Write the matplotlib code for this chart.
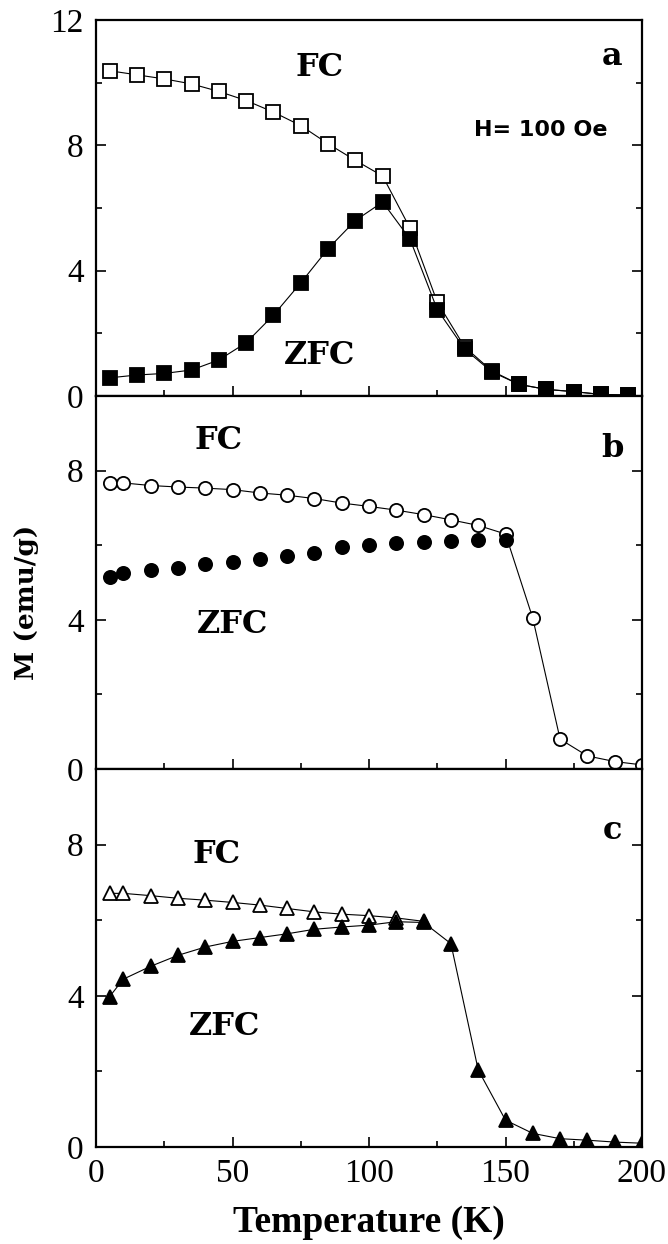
import matplotlib
matplotlib.use("Agg")
import matplotlib.pyplot as plt
from matplotlib.ticker import MultipleLocator

# ---------------- data ----------------
T_a = [5, 15, 25, 35, 45, 55, 65, 75, 85, 95, 105, 115, 125, 135, 145, 155, 165, 175, 185, 195]
fc_a = [10.38, 10.25, 10.12, 9.96, 9.72, 9.43, 9.06, 8.63, 8.05, 7.52, 7.02, 5.36, 3.0, 1.57,
        0.8, 0.37, 0.21, 0.14, 0.05, 0.03]
zfc_a = [0.58, 0.67, 0.72, 0.83, 1.15, 1.70, 2.58, 3.61, 4.70, 5.60, 6.19, 5.01, 2.76, 1.50,
         0.77, 0.37, 0.21, 0.14, 0.05, 0.03]

T_b_fc = [5, 10, 20, 30, 40, 50, 60, 70, 80, 90, 100, 110, 120, 130, 140, 150, 160, 170, 180, 190, 200]
fc_b = [7.67, 7.67, 7.6, 7.56, 7.53, 7.49, 7.4, 7.34, 7.25, 7.13, 7.04, 6.94, 6.82, 6.68, 6.53,
        6.3, 4.04, 0.8, 0.35, 0.2, 0.11]
T_b_zfc = [5, 10, 20, 30, 40, 50, 60, 70, 80, 90, 100, 110, 120, 130, 140, 150]
zfc_b = [5.16, 5.25, 5.34, 5.4, 5.49, 5.55, 5.64, 5.7, 5.79, 5.95, 6.0, 6.06, 6.08, 6.1, 6.13, 6.15]

T_c_fc = [5, 10, 20, 30, 40, 50, 60, 70, 80, 90, 100, 110, 120]
fc_c = [6.71, 6.71, 6.65, 6.58, 6.53, 6.47, 6.4, 6.31, 6.22, 6.16, 6.12, 6.06, 5.97]
T_c_zfc = [5, 10, 20, 30, 40, 50, 60, 70, 80, 90, 100, 110, 120, 130, 140, 150, 160, 170, 180, 190, 200]
zfc_c = [3.98, 4.44, 4.78, 5.07, 5.29, 5.44, 5.54, 5.64, 5.76, 5.82, 5.87, 5.96, 5.94, 5.38, 2.04,
         0.71, 0.36, 0.22, 0.18, 0.13, 0.10]

x_ticks = [0, 50, 100, 150, 200]
panel_letters = ["a", "b", "c"]

# ---------------- style ----------------
serif = ["Liberation Serif", "DejaVu Serif"]
bold_serif = ["DejaVu Serif"]
plt.rcParams["font.family"] = serif

fig = plt.figure(figsize=(6.68, 12.44), dpi=100)
left, width = 96 / 668, (642 - 96) / 668
H = 1244
bounds = [(20, 396), (396, 769), (769, 1147)]
axes = []
for top, bot in bounds:
    ax = fig.add_axes([left, 1 - bot / H, width, (bot - top) / H])
    axes.append(ax)

ylims = [12, 10, 10]
for i, ax in enumerate(axes):
    ax.set_xlim(0, 200)
    ax.set_ylim(0, ylims[i])
    ax.xaxis.set_major_locator(MultipleLocator(50))
    ax.xaxis.set_minor_locator(MultipleLocator(25))
    ax.yaxis.set_major_locator(MultipleLocator(4))
    ax.yaxis.set_minor_locator(MultipleLocator(2))
    ax.tick_params(which="both", direction="in", right=True, top=False, labelsize=24,
                   width=1.2)
    ax.tick_params(which="major", length=7)
    ax.tick_params(which="minor", length=4)
    ax.tick_params(axis="x", pad=8)
    ax.tick_params(axis="y", pad=9)
    for s in ax.spines.values():
        s.set_linewidth(1.6)
    if i < 2:
        ax.set_xticklabels([])
    else:
        ax.set_xticks(x_ticks)
        ax.set_xticklabels([str(v) for v in x_ticks])
    if i > 0:
        ax.set_yticks([0, 4, 8])

ms = 9.5
mew = 1.3
lw = 0.8
# panel a
a = axes[0]
a.plot(T_a, fc_a, "-", color="black", lw=lw, marker="s", ms=ms, mfc="white", mec="black", mew=mew)
a.plot(T_a, zfc_a, "-", color="black", lw=lw, marker="s", ms=ms, mfc="black", mec="black", mew=mew)
# panel b
b = axes[1]
b.plot(T_b_fc, fc_b, "-", color="black", lw=lw, marker="o", ms=ms, mfc="white", mec="black", mew=mew)
b.plot(T_b_zfc, zfc_b, marker="o", ms=ms, mfc="black", mec="black", mew=mew, ls="none")
# panel c
c = axes[2]
c.plot(T_c_fc, fc_c, "-", color="black", lw=lw, marker="^", ms=ms + 1, mfc="white", mec="black", mew=mew)
c.plot(T_c_zfc, zfc_c, "-", color="black", lw=lw, marker="^", ms=ms + 1, mfc="black", mec="black", mew=mew)

lab_kw = dict(family=bold_serif, fontweight="bold", fontsize=23, ha="center", va="center")
a.text(82, 10.5, "FC", **lab_kw)
a.text(82, 1.3, "ZFC", **lab_kw)
a.text(189, 10.85, "a", **lab_kw)
a.text(163, 8.5, "H= 100 Oe", family=["DejaVu Sans"], fontweight="bold", fontsize=16,
       ha="center", va="center")
b.text(45, 8.8, "FC", **lab_kw)
b.text(50, 3.87, "ZFC", **lab_kw)
b.text(189, 8.6, "b", **lab_kw)
c.text(44, 7.73, "FC", **lab_kw)
c.text(47, 3.2, "ZFC", **lab_kw)
c.text(189, 8.36, "c", **lab_kw)

c.set_xlabel("Temperature (K)", fontsize=27, fontweight="bold", labelpad=12)
fig.text(27 / 668, 1 - 602 / H, "M (emu/g)", rotation=90, family=bold_serif, fontweight="bold",
         fontsize=19, ha="center", va="center")

fig.savefig("out.png", dpi=100)
